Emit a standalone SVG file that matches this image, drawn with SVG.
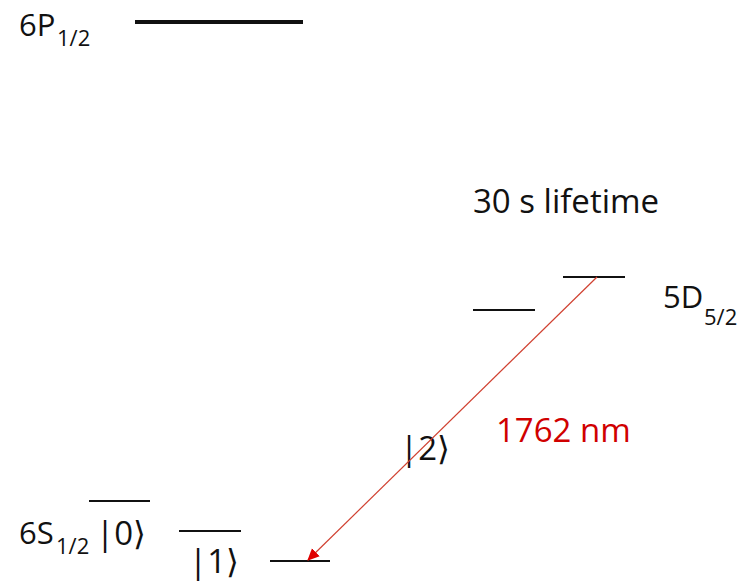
<svg xmlns="http://www.w3.org/2000/svg" width="750" height="582" viewBox="0 0 750 582">
<style>
text{font-family:"Open Sans","Noto Sans","Liberation Sans",sans-serif;fill:#111;}
.big{font-size:31px;}
.ket{font-size:33px;}
.sub{font-size:22px;}
.lvl{stroke:#111;stroke-width:2;}
.red{fill:#d00000;font-size:33px;}
</style>
<defs>
<marker id="ah" markerWidth="12" markerHeight="12" refX="11" refY="6" orient="auto" markerUnits="userSpaceOnUse" viewBox="0 0 12 12">
<path d="M0,0.5 L12,6 L0,11.5 z" fill="#e00000"/>
</marker>
</defs>
<rect width="750" height="582" fill="#fff"/>
<g id="level-6P">
<line x1="135" y1="22" x2="303" y2="22" stroke="#111" stroke-width="4"/>
<text class="big" x="19" y="36">6P</text>
<text class="sub" x="57" y="46">1/2</text>
</g>
<g id="lifetime"><text style="font-size:33px" x="473" y="213">30 s lifetime</text></g>
<g id="level-5D-a"><line class="lvl" x1="563" y1="277" x2="625" y2="277"/></g>
<g id="level-5D-b"><line class="lvl" x1="473" y1="310" x2="535" y2="310"/></g>
<g id="label-5D">
<text class="big" x="663" y="308">5D</text>
<text class="sub" x="704" y="325">5/2</text>
</g>
<g id="state-2"><text class="ket" x="400" y="460">|2⟩</text></g>
<g id="wavelength"><text class="red" x="496" y="442">1762 nm</text></g>
<g id="level-0">
<line class="lvl" x1="89" y1="501" x2="150" y2="501"/>
<text class="big" x="19" y="544">6S</text>
<text class="sub" x="56" y="554">1/2</text>
<text class="ket" x="96" y="545">|0⟩</text>
</g>
<g id="level-1">
<line class="lvl" x1="179" y1="531" x2="241" y2="531"/>
<text class="ket" x="189" y="573">|1⟩</text>
</g>
<g id="level-low"><line class="lvl" x1="270" y1="561" x2="330" y2="561"/></g>
<g id="connectors">
<line x1="597" y1="277" x2="308" y2="560" stroke="#d04030" stroke-width="1.2" marker-end="url(#ah)"/>
</g>
</svg>
